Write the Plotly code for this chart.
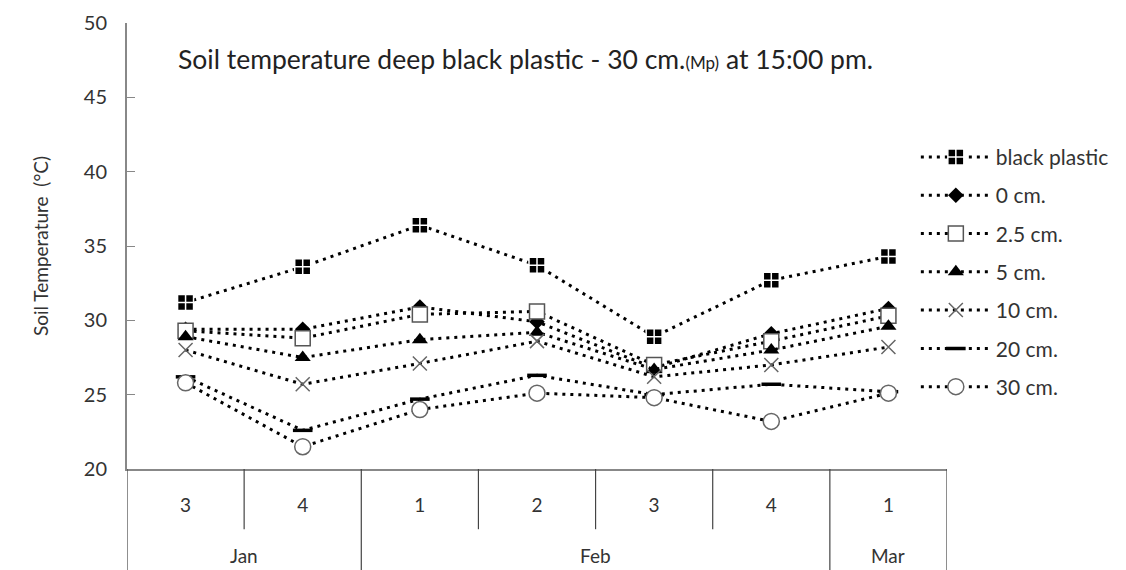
import plotly.graph_objects as go

months = ["Jan", "Jan", "Feb", "Feb", "Feb", "Feb", "Mar"]
weeks = ["3", "4", "1", "2", "3", "4", "1"]
categories = [f"{m}-{w}" for m, w in zip(months, weeks)]

series_names = ["black plastic", "0 cm.", "2.5 cm.", "5 cm.", "10 cm.", "20 cm.", "30 cm."]
black_plastic = [31.2, 33.6, 36.4, 33.7, 28.9, 32.7, 34.3]
cm0 = [29.4, 29.4, 30.9, 29.9, 26.8, 29.1, 30.8]
cm2_5 = [29.3, 28.8, 30.4, 30.6, 27.0, 28.6, 30.3]
cm5 = [28.9, 27.5, 28.7, 29.2, 26.7, 28.0, 29.6]
cm10 = [28.0, 25.7, 27.1, 28.6, 26.2, 27.0, 28.2]
cm20 = [26.2, 22.6, 24.7, 26.3, 25.0, 25.7, 25.2]
cm30 = [25.8, 21.5, 24.0, 25.1, 24.8, 23.2, 25.1]

values = [black_plastic, cm0, cm2_5, cm5, cm10, cm20, cm30]

marker_styles = [
    dict(symbol="square-cross", size=16, color="black", line=dict(color="white", width=1.5)),
    dict(symbol="diamond", size=12, color="black", line=dict(color="black", width=0)),
    dict(symbol="square", size=15, color="white", line=dict(color="#555555", width=1.5)),
    dict(symbol="triangle-up", size=14, color="black", line=dict(color="black", width=0)),
    dict(symbol="x-thin-open", size=14, color="#666666", line=dict(color="#666666", width=1.5)),
    dict(symbol="line-ew", size=14, color="black", line=dict(color="black", width=3.5)),
    dict(symbol="circle", size=16, color="white", line=dict(color="#666666", width=1.5)),
]

fig = go.Figure()
for i, (name, vals) in enumerate(zip(series_names, values)):
    fig.add_trace(go.Scatter(
        x=categories, y=vals, name=name,
        mode="lines+markers",
        line=dict(color="black", width=3, dash="3px,5px"),
        marker=marker_styles[i],
        legendgroup=f"g{i}",
    ))

# Title
fig.add_annotation(
    text="Soil temperature deep black plastic - 30 cm.<span style='font-size:17px'>(Mp)</span> at 15:00 pm.",
    xref="paper", yref="paper", x=0.06, y=0.92, xanchor="left", yanchor="middle",
    showarrow=False, font=dict(size=26.5, color="#222222"),
)

# Two-level category axis: week dividers, month dividers, month labels
shapes = []
for b in [0.5, 2.5, 3.5, 4.5]:
    shapes.append(dict(type="line", xref="x", yref="paper", x0=b, x1=b, y0=0, y1=-0.135,
                       line=dict(color="#444444", width=1.2)))
for b in [-0.5, 1.5, 5.5, 6.5]:
    shapes.append(dict(type="line", xref="x", yref="paper", x0=b, x1=b, y0=0, y1=-0.25,
                       line=dict(color="#444444", width=1.2)))
fig.update_layout(shapes=shapes)

month_pos = {"Jan": 0.5, "Feb": 3.5, "Mar": 6.0}
for m, p in month_pos.items():
    fig.add_annotation(text=m, xref="x", yref="paper", x=p, y=-0.193,
                       xanchor="center", yanchor="middle", showarrow=False,
                       font=dict(size=19, color="#333333"))

fig.update_layout(
    width=1126, height=570,
    margin=dict(l=127, r=179, t=23, b=101, autoexpand=False),
    paper_bgcolor="white", plot_bgcolor="white",
    font=dict(family="Lato, 'Open Sans', sans-serif", color="#333333"),
    showlegend=True,
    legend=dict(x=0.962, y=0.745, xanchor="left", yanchor="top",
                font=dict(size=21, color="#333333"), tracegroupgap=8, itemwidth=70,
                bgcolor="rgba(0,0,0,0)"),
    xaxis=dict(
        type="category", categoryorder="array", categoryarray=categories,
        tickvals=categories, ticktext=weeks, range=[-0.5, 6.5],
        showline=True, linecolor="#888888", linewidth=2,
        ticks="", ticklabelstandoff=18,
        tickfont=dict(size=19, color="#333333"), showgrid=False,
    ),
    yaxis=dict(
        range=[20, 50], dtick=5, ticks="inside", ticklen=8, tickcolor="#888888",
        showline=True, linecolor="#888888", linewidth=2, showgrid=False, zeroline=False,
        tickfont=dict(size=20, color="#333333"), ticklabelstandoff=14,
        title=dict(text="Soil Temperature  (°C)", font=dict(size=19, color="#333333"), standoff=30),
    ),
)

fig.write_html("out.html")
